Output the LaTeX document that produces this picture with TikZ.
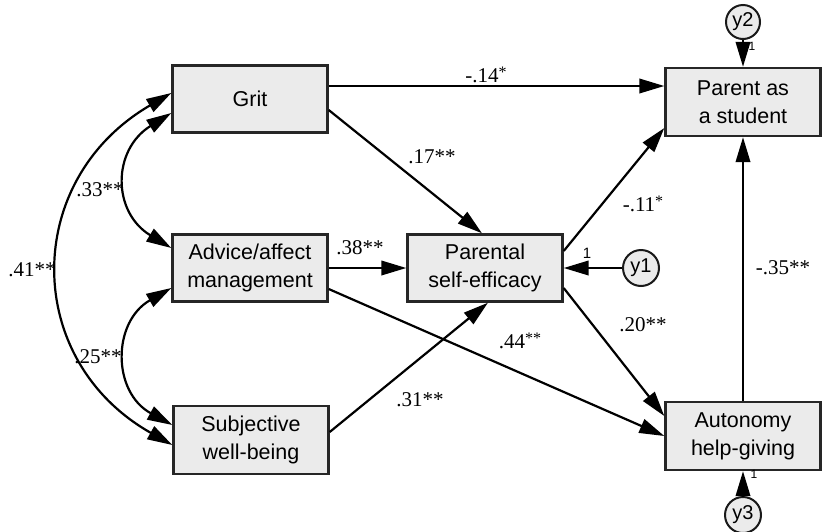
\documentclass[tikz,border=0pt]{standalone}
\usepackage{fontspec}
\setmainfont{Liberation Serif}
\setsansfont{Liberation Sans}
\usetikzlibrary{arrows.meta,calc}
% small raised asterisk used in some coefficients
\newcommand\smallstar{\raisebox{0.2em}{\fontsize{16}{16}\selectfont*}}
\begin{document}
\begin{tikzpicture}[x=1pt,y=-1pt,
  var/.style={draw=black!85, line width=2.4pt, fill=black!8,
    minimum width=155pt, minimum height=67pt, align=center, inner sep=0pt,
    font=\sffamily\fontsize{21.5}{28}\selectfont},
  err/.style={circle, draw=black!90, line width=2pt, fill=black!8,
    minimum size=36pt, inner sep=0pt, font=\sffamily\fontsize{20}{20}\selectfont},
  tip/.tip={Triangle[length=25pt,width=14.5pt]},
  reg/.style={line width=2.2pt, -tip},
  cov/.style={line width=2.2pt, tip-tip},
  coef/.style={inner sep=0pt, font=\fontsize{21}{21}\selectfont},
  one/.style={inner sep=0pt, font=\sffamily\fontsize{15}{15}\selectfont},
  tinyone/.style={inner sep=0pt, font=\sffamily\fontsize{12}{12}\selectfont}
]
\useasboundingbox (0,0) rectangle (823,531);

% observed variables
\node[var] (grit) at (250,99)  {Grit};
\node[var] (adv)  at (250,268) {Advice/affect\\management};
\node[var, minimum height=68pt] (swb)  at (251,440) {Subjective\\well-being};
\node[var] (pse)  at (485,268) {Parental\\self-efficacy};
\node[var, minimum height=68pt] (par)  at (743,102) {Parent as\\a student};
\node[var, minimum height=68pt] (aut)  at (743,436) {Autonomy\\help-giving};

% residual terms
\node[err] (y1) at (641,268) {y1};
\node[err, minimum size=34pt] (y2) at (743,22) {y2};
\node[err] (y3) at (743,515) {y3};

% directed paths
\draw[reg] ([yshift=13pt]grit.east) -- ([yshift=16pt]par.west);
\draw[reg] ([yshift=-11pt]grit.east) -- ([xshift=-3pt]pse.north);
\draw[reg] (adv.east) -- (pse.west);
\draw[reg] ([yshift=-21pt]adv.east) -- (aut.west);
\draw[reg] ([yshift=8pt]swb.east) -- ([xshift=3pt]pse.south);
\draw[reg] ([yshift=17pt]pse.east) -- ([yshift=-26pt]par.west);
\draw[reg] ([yshift=-20pt]pse.east) -- ([yshift=20pt]aut.west);
\draw[reg] (aut.north) -- (par.south);
\draw[reg] (y1) -- (pse.east);
\draw[reg] (y2) -- (par.north);
\draw[reg] (y3) -- (aut.south);

% covariances
\draw[cov] ([yshift=6pt]grit.west) .. controls (22,180) and (22,360) .. ([yshift=-5pt]swb.west);
\draw[cov] ([yshift=-14pt]grit.west) .. controls (112,150) and (112,212) .. ([yshift=20pt]adv.west);
\draw[cov] ([yshift=-20pt]adv.west) .. controls (112,322) and (112,392) .. ([yshift=15pt]swb.west);

% coefficients
\node[coef] (c14) at (486,75)  {-.14\smallstar};
\node[coef] (c17) at (432,157) {.17**};
\node[coef] (c38) at (360,248) {.38**};
\node[coef] (c44) at (520,341) {.44\smallstar\smallstar};
\node[coef] (c31) at (420,400) {.31**};
\node[coef] (c11) at (643,204) {-.11\smallstar};
\node[coef] (c20) at (643,325) {.20**};
\node[coef] (c35) at (783,268) {-.35**};
\node[coef] (c41) at (32,270)  {.41**};
\node[coef] (c33) at (100,190) {.33**};
\node[coef] (c25) at (98,357)  {.25**};

% fixed loadings
\node[one] (l1) at (587,253) {1};
\node[tinyone] (l2) at (752,46) {1};
\node[tinyone] (l3) at (754,474) {1};
\end{tikzpicture}
\end{document}
